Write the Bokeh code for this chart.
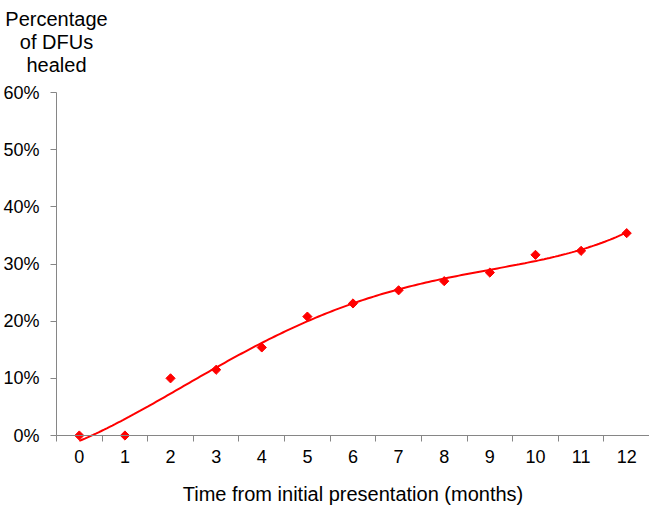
import numpy as np
from bokeh.plotting import figure
from bokeh.models import Range1d, FixedTicker, PrintfTickFormatter, Label, ColumnDataSource
from bokeh.embed import file_html
from bokeh.resources import INLINE

# ---- data ----
months = [0, 1, 2, 3, 4, 5, 6, 7, 8, 9, 10, 11, 12]
healed_pct = [0.0, 0.0, 10.0, 11.5, 15.4, 20.8, 23.1, 25.4, 27.0, 28.5, 31.6, 32.3, 35.4]
y_ticks = [0, 10, 20, 30, 40, 50, 60]
y_title_lines = ["Percentage", "of DFUs", "healed"]
x_title = "Time from initial presentation (months)"

# polynomial (order 4) trendline fitted to the data, like a spreadsheet trendline
coef = np.polyfit(months, healed_pct, 4)
xs = np.linspace(months[0], months[-1], 200)
ys = np.polyval(coef, xs)

FONT = "Liberation Sans"
GREY = "#868686"
RED = "#FF0000"
TICK_FONT = "18px"
TITLE_FONT = "20px"

# layout constants (pixels); the frame covers the whole canvas, axes sit at fixed places
W, H = 649, 506
AXIS_LEFT_PX = 56      # pixel column of the y axis
TOP_TICK_PX = 92       # pixel row of the top (60%) tick
ZERO_PX = 435          # pixel row of the 0% line
TICK = 6
x_lo, x_hi = months[0] - 0.5, months[-1] + 0.5
PX_PER_X = (W - AXIS_LEFT_PX) / (x_hi - x_lo)
PX_PER_Y = (ZERO_PX - TOP_TICK_PX) / (y_ticks[-1] - y_ticks[0])
x_start = x_lo - AXIS_LEFT_PX / PX_PER_X
y_end = y_ticks[-1] + TOP_TICK_PX / PX_PER_Y
y_start = y_ticks[0] - (H - ZERO_PX) / PX_PER_Y

p = figure(width=W, height=H, output_backend="svg", toolbar_location=None,
           x_range=Range1d(x_start, x_hi), y_range=Range1d(y_start, y_end),
           min_border=0)
p.outline_line_color = None
p.grid.visible = False
p.background_fill_color = "white"
p.border_fill_color = "white"

# trendline and points
p.line(xs, ys, line_color=RED, line_width=2)
src = ColumnDataSource(dict(x=months, y=healed_pct))
p.scatter("x", "y", source=src, marker="square", angle=np.pi / 4, size=6.5,
          fill_color=RED, line_color=RED)

# x axis: labels at categories, ticks between categories
xa = p.xaxis[0]
xa.fixed_location = y_ticks[0]
xa.bounds = (x_lo, x_hi)
xa.ticker = FixedTicker(ticks=months, minor_ticks=[m - 0.5 for m in months] + [x_hi])
xa.axis_line_color = GREY
xa.major_tick_line_color = None
xa.major_tick_out = TICK
xa.major_tick_in = 0
xa.minor_tick_line_color = GREY
xa.minor_tick_out = TICK
xa.minor_tick_in = 0
xa.major_label_standoff = 8
xa.major_label_text_font = FONT
xa.major_label_text_font_size = TICK_FONT
xa.major_label_text_color = "black"
xa.axis_label = x_title
xa.axis_label_text_font = FONT
xa.axis_label_text_font_size = TITLE_FONT
xa.axis_label_text_font_style = "normal"
xa.axis_label_text_color = "black"
xa.axis_label_standoff = 17

# y axis
ya = p.yaxis[0]
ya.fixed_location = x_lo
ya.bounds = (y_ticks[0], y_ticks[-1])
ya.ticker = FixedTicker(ticks=y_ticks, minor_ticks=[])
ya.formatter = PrintfTickFormatter(format="%d%%")
ya.axis_line_color = GREY
ya.major_tick_line_color = GREY
ya.major_tick_out = TICK
ya.major_tick_in = 0
ya.minor_tick_line_color = None
ya.major_label_standoff = 11
ya.major_label_text_font = FONT
ya.major_label_text_font_size = TICK_FONT
ya.major_label_text_color = "black"

# y title at the top-left, centred over the y axis
baselines_px = [18, 41, 64]
for txt, bpx in zip(y_title_lines, baselines_px):
    p.add_layout(Label(x=x_lo, y=y_end - bpx / PX_PER_Y, text=txt,
                       text_align="center", text_baseline="alphabetic",
                       text_font=FONT, text_font_size=TITLE_FONT, text_color="black"))

open("out.html", "w").write(file_html(p, INLINE))
